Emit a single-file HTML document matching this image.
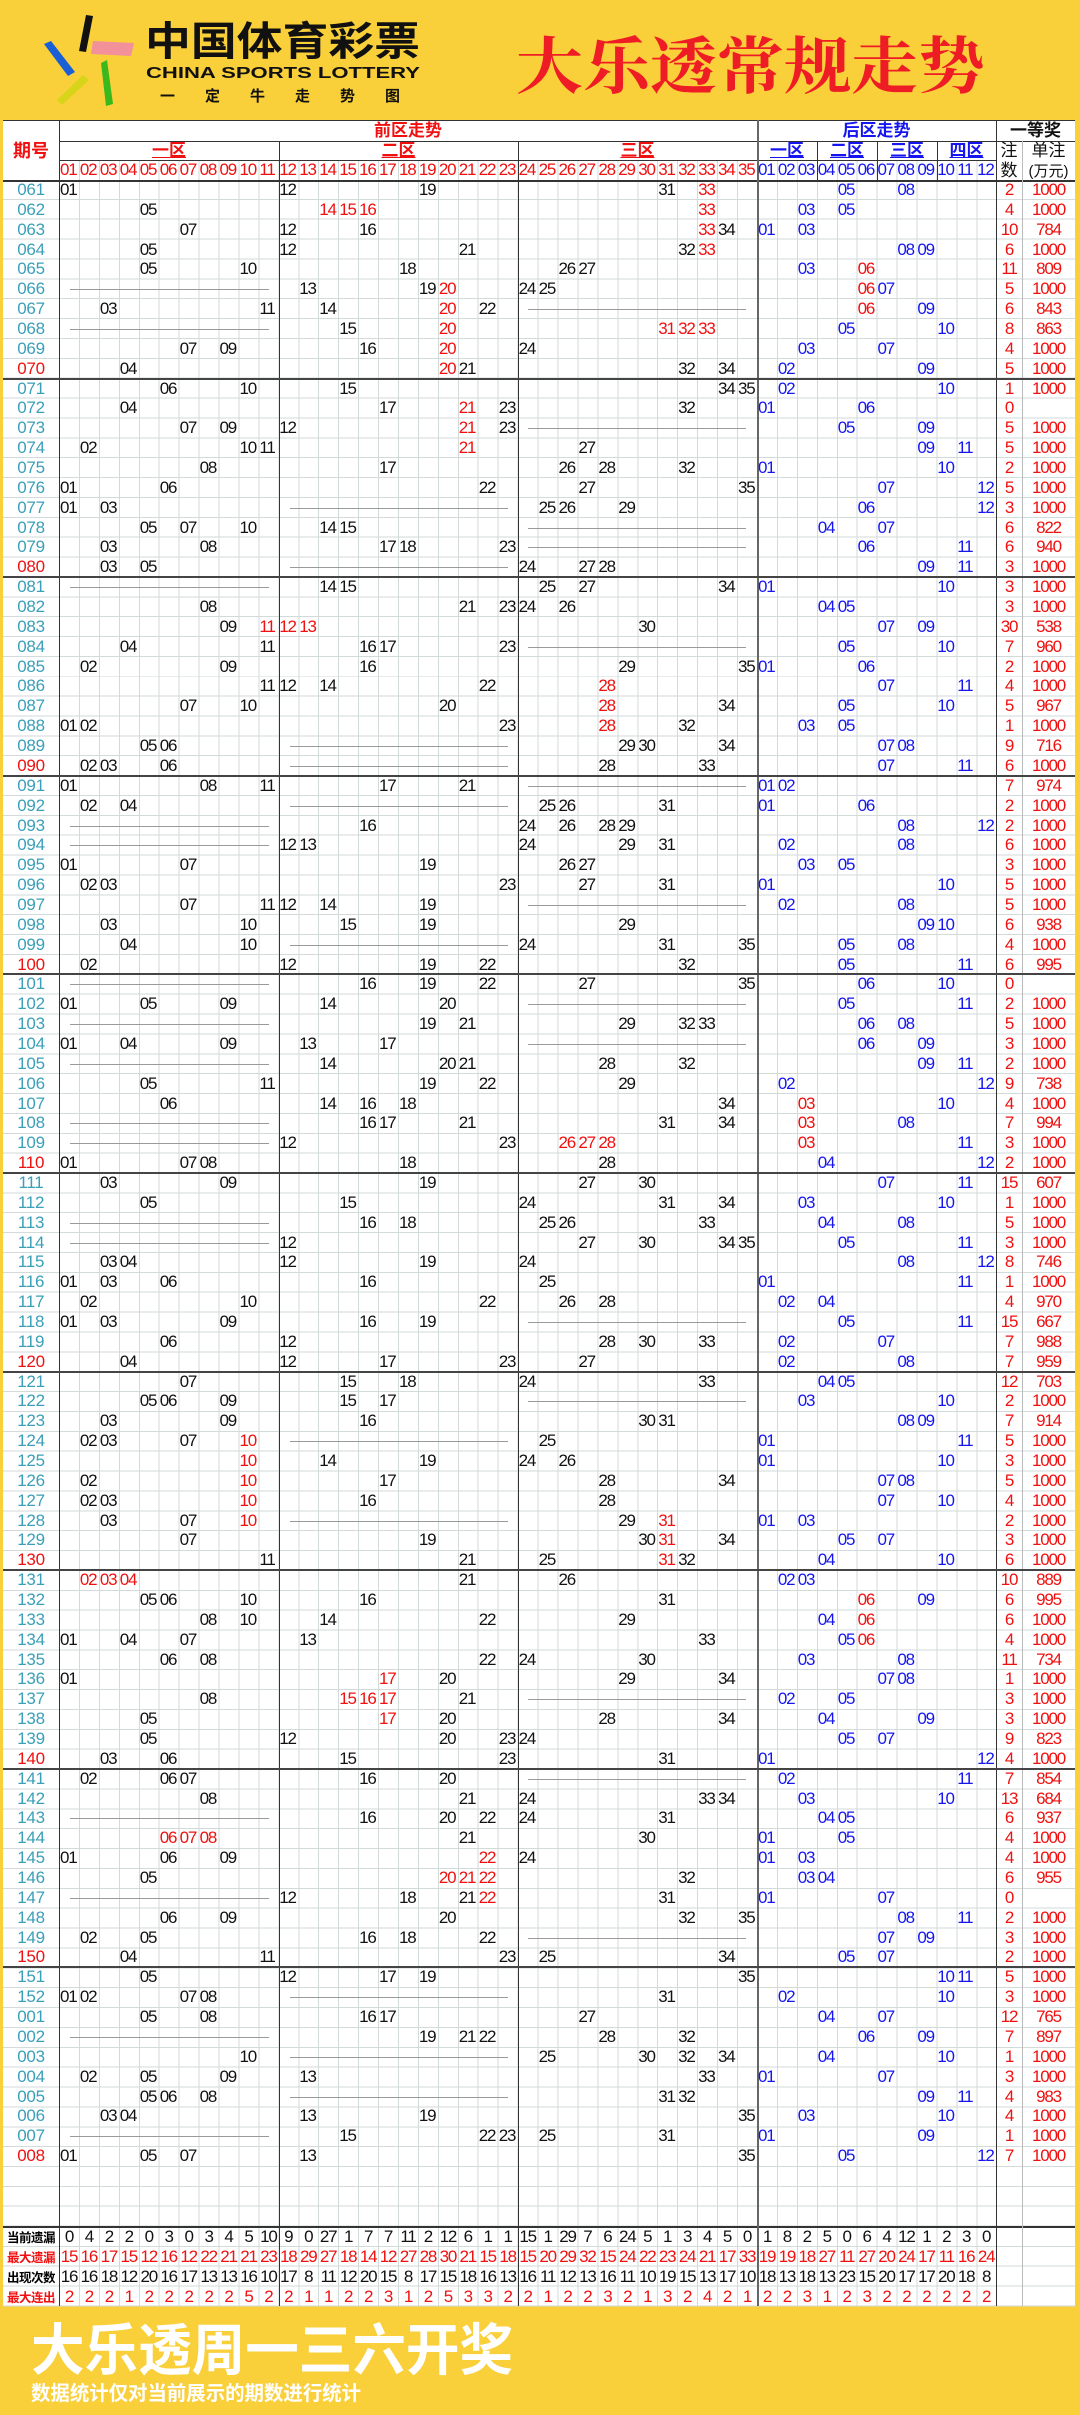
<!DOCTYPE html>
<html><head><meta charset="utf-8">
<style>
*{margin:0;padding:0;box-sizing:border-box}
body{width:1080px;height:2415px;background:#f9cf3a;position:relative;overflow:hidden;font-family:"Liberation Sans","Noto Sans CJK SC",sans-serif}
.tbl{position:absolute;left:3px;top:120px;width:1072px;height:2186px;background:#fff}
.gv{position:absolute;top:160px;height:2146px;background:repeating-linear-gradient(90deg,#d3dada 0 1px,transparent 1px 19.94px)}
.gh{position:absolute;left:3px;top:180px;width:1072px;height:2047px;background:repeating-linear-gradient(180deg,transparent 0 18.87px,#d3dada 18.87px 19.87px)}
.gh2{position:absolute;left:3px;top:2227px;width:1072px;height:80px;background:repeating-linear-gradient(180deg,transparent 0 18.87px,#d3dada 18.87px 19.87px)}
.v{position:absolute;width:1px;background:#333}
.h{position:absolute;height:1px;background:#333}
.hd{position:absolute;font-weight:bold;text-align:center;font-size:17px;line-height:20px}
.ul{text-decoration:underline}
.rows{position:absolute;left:0;top:180px;width:1080px}
.w{position:relative;height:19.87px}
.w i,.w b,.w s,.w u{position:absolute;top:0;line-height:20px;font-style:normal;font-weight:normal;text-decoration:none;font-size:17px;letter-spacing:-1.2px;white-space:nowrap}
.w i{color:#111}
.w b{color:#1515f0}
.w i.r,.w b.r{color:#f01010}
.w s.p{left:3px;width:56px;text-align:center;color:#3a9fb8;letter-spacing:-0.3px}
.w s.p.r{color:#f01010}
.w u.n{left:996px;width:26px;text-align:center;color:#f01010}
.w u.m{left:1022px;width:53px;text-align:center;color:#f01010}
.w s.d1,.w s.d2,.w s.d3{top:10px;height:1px;background:#9a9a9a}
.d1{left:70px;width:199px}.d2{left:290px;width:218px}.d3{left:528px;width:218px}
.g::after{content:"";position:absolute;left:3px;width:1072px;bottom:-1px;height:2px;background:#444}
.f01{left:60px}.f02{left:79.9px}.f03{left:99.9px}.f04{left:119.8px}.f05{left:139.8px}.f06{left:159.7px}.f07{left:179.6px}.f08{left:199.6px}.f09{left:219.5px}.f10{left:239.5px}.f11{left:259.4px}.f12{left:279.3px}.f13{left:299.3px}.f14{left:319.2px}.f15{left:339.2px}.f16{left:359.1px}.f17{left:379px}.f18{left:399px}.f19{left:418.9px}.f20{left:438.9px}.f21{left:458.8px}.f22{left:478.7px}.f23{left:498.7px}.f24{left:518.6px}.f25{left:538.6px}.f26{left:558.5px}.f27{left:578.4px}.f28{left:598.4px}.f29{left:618.3px}.f30{left:638.3px}.f31{left:658.2px}.f32{left:678.1px}.f33{left:698.1px}.f34{left:718px}.f35{left:738px}
.k01{left:758px}.k02{left:777.9px}.k03{left:797.8px}.k04{left:817.8px}.k05{left:837.7px}.k06{left:857.6px}.k07{left:877.5px}.k08{left:897.4px}.k09{left:917.4px}.k10{left:937.3px}.k11{left:957.2px}.k12{left:977.1px}
.hn i{color:#f01010}.hn b{color:#1515f0}
.st i,.st b{margin-left:-1px;width:20px;text-align:center}
.st s.L{left:3px;width:56px;text-align:center;font-weight:bold;font-size:12.5px;letter-spacing:-0.5px;font-family:"Noto Sans CJK SC",sans-serif}
.st.rd i,.st.rd b,.st.rd s.L{color:#f01010}
.st b{color:#111}
</style></head><body>
<svg style="position:absolute;left:0;top:0" width="1080" height="120">
<polygon points="86,15 93,16 86,52 79,51" fill="#111"/>
<polygon points="93,41 134,43 131,56 91,54" fill="#f2919a"/>
<polygon points="44,44 51,41 75,72 68,76" fill="#1a5fd6"/>
<polygon points="101,63 107,60 113,104 106,106" fill="#3ab81c"/>
<polygon points="57,100 83,75 89,80 62,105" fill="#d8d41a"/>
<text x="145" y="55" font-size="40" font-weight="bold" textLength="275" lengthAdjust="spacingAndGlyphs" font-family="Noto Sans CJK SC,sans-serif" fill="#111">中国体育彩票</text>
<text x="146" y="78" font-size="16" font-weight="bold" textLength="274" lengthAdjust="spacingAndGlyphs" font-family="Liberation Sans,sans-serif" fill="#111">CHINA SPORTS LOTTERY</text>
<text x="160" y="101" font-size="15" font-weight="bold" textLength="240" lengthAdjust="spacing" font-family="Noto Sans CJK SC,sans-serif" fill="#111">一定牛走势图</text>
<text x="516" y="88" font-size="62" font-weight="bold" textLength="469" lengthAdjust="spacingAndGlyphs" font-family="Noto Serif CJK SC,serif" fill="#ee1c24">大乐透常规走势</text>
</svg>
<div class="tbl"></div>
<div class="gv" style="left:59px;width:698px"></div>
<div class="gv" style="left:757px;width:239px"></div>
<div class="gh"></div>
<div class="gh2"></div>
<!-- dark lines -->
<div class="h" style="left:3px;top:120px;width:1072px"></div>
<div class="h" style="left:59px;top:141px;width:1016px"></div>
<div class="h" style="left:59px;top:160px;width:937px"></div>
<div class="h" style="left:3px;top:180px;width:1072px;height:2px"></div>
<div class="h" style="left:3px;top:2226px;width:1072px;height:2px"></div>
<div class="v" style="left:59px;top:120px;height:2186px"></div>
<div class="v" style="left:279px;top:141px;height:2165px"></div>
<div class="v" style="left:518px;top:141px;height:2165px"></div>
<div class="v" style="left:757px;top:120px;height:2186px;width:2px;background:#666"></div>
<div class="v" style="left:996px;top:120px;height:2186px"></div>
<div class="v" style="left:1022px;top:141px;height:2165px;background:#bbb"></div>
<div class="v" style="left:817px;top:141px;height:39px"></div>
<div class="v" style="left:877px;top:141px;height:39px"></div>
<div class="v" style="left:937px;top:141px;height:39px"></div>
<!-- header text -->
<div class="hd" style="left:3px;top:140px;width:56px;color:#f01010;font-size:18px;font-family:'Noto Sans CJK SC',sans-serif">期号</div>
<div class="hd" style="left:59px;top:121px;width:698px;color:#f01010">前区走势</div>
<div class="hd" style="left:757px;top:121px;width:239px;color:#1515f0">后区走势</div>
<div class="hd" style="left:996px;top:121px;width:79px;color:#111">一等奖</div>
<div class="hd ul" style="left:59px;top:141px;width:220px;color:#f01010">一区</div>
<div class="hd ul" style="left:279px;top:141px;width:239px;color:#f01010">二区</div>
<div class="hd ul" style="left:518px;top:141px;width:239px;color:#f01010">三区</div>
<div class="hd ul" style="left:757px;top:141px;width:60px;color:#1515f0">一区</div>
<div class="hd ul" style="left:817px;top:141px;width:60px;color:#1515f0">二区</div>
<div class="hd ul" style="left:877px;top:141px;width:60px;color:#1515f0">三区</div>
<div class="hd ul" style="left:937px;top:141px;width:59px;color:#1515f0">四区</div>
<div class="hd" style="left:996px;top:141px;width:26px;color:#111;font-weight:normal">注<br>数</div>
<div class="hd" style="left:1022px;top:141px;width:53px;color:#111;font-weight:normal">单注<br><span style="font-size:15px">(万元)</span></div>
<div class="rows" style="top:160px">
<div class="w hn"><i class=f01>01</i><i class=f02>02</i><i class=f03>03</i><i class=f04>04</i><i class=f05>05</i><i class=f06>06</i><i class=f07>07</i><i class=f08>08</i><i class=f09>09</i><i class=f10>10</i><i class=f11>11</i><i class=f12>12</i><i class=f13>13</i><i class=f14>14</i><i class=f15>15</i><i class=f16>16</i><i class=f17>17</i><i class=f18>18</i><i class=f19>19</i><i class=f20>20</i><i class=f21>21</i><i class=f22>22</i><i class=f23>23</i><i class=f24>24</i><i class=f25>25</i><i class=f26>26</i><i class=f27>27</i><i class=f28>28</i><i class=f29>29</i><i class=f30>30</i><i class=f31>31</i><i class=f32>32</i><i class=f33>33</i><i class=f34>34</i><i class=f35>35</i><b class=k01>01</b><b class=k02>02</b><b class=k03>03</b><b class=k04>04</b><b class=k05>05</b><b class=k06>06</b><b class=k07>07</b><b class=k08>08</b><b class=k09>09</b><b class=k10>10</b><b class=k11>11</b><b class=k12>12</b></div>
</div>
<div class="rows">
<div class=w><s class=p>061</s><i class=f01>01</i><i class=f12>12</i><i class=f19>19</i><i class=f31>31</i><i class="f33 r">33</i><b class=k05>05</b><b class=k08>08</b><u class=n>2</u><u class=m>1000</u></div>
<div class=w><s class=p>062</s><i class=f05>05</i><i class="f14 r">14</i><i class="f15 r">15</i><i class="f16 r">16</i><i class="f33 r">33</i><b class=k03>03</b><b class=k05>05</b><u class=n>4</u><u class=m>1000</u></div>
<div class=w><s class=p>063</s><i class=f07>07</i><i class=f12>12</i><i class=f16>16</i><i class="f33 r">33</i><i class=f34>34</i><b class=k01>01</b><b class=k03>03</b><u class=n>10</u><u class=m>784</u></div>
<div class=w><s class=p>064</s><i class=f05>05</i><i class=f12>12</i><i class=f21>21</i><i class=f32>32</i><i class="f33 r">33</i><b class=k08>08</b><b class=k09>09</b><u class=n>6</u><u class=m>1000</u></div>
<div class=w><s class=p>065</s><i class=f05>05</i><i class=f10>10</i><i class=f18>18</i><i class=f26>26</i><i class=f27>27</i><b class=k03>03</b><b class="k06 r">06</b><u class=n>11</u><u class=m>809</u></div>
<div class=w><s class=p>066</s><s class=d1></s><i class=f13>13</i><i class=f19>19</i><i class="f20 r">20</i><i class=f24>24</i><i class=f25>25</i><b class="k06 r">06</b><b class=k07>07</b><u class=n>5</u><u class=m>1000</u></div>
<div class=w><s class=p>067</s><i class=f03>03</i><i class=f11>11</i><i class=f14>14</i><i class="f20 r">20</i><i class=f22>22</i><s class=d3></s><b class="k06 r">06</b><b class=k09>09</b><u class=n>6</u><u class=m>843</u></div>
<div class=w><s class=p>068</s><s class=d1></s><i class=f15>15</i><i class="f20 r">20</i><i class="f31 r">31</i><i class="f32 r">32</i><i class="f33 r">33</i><b class=k05>05</b><b class=k10>10</b><u class=n>8</u><u class=m>863</u></div>
<div class=w><s class=p>069</s><i class=f07>07</i><i class=f09>09</i><i class=f16>16</i><i class="f20 r">20</i><i class=f24>24</i><b class=k03>03</b><b class=k07>07</b><u class=n>4</u><u class=m>1000</u></div>
<div class="w g"><s class="p r">070</s><i class=f04>04</i><i class="f20 r">20</i><i class=f21>21</i><i class=f32>32</i><i class=f34>34</i><b class=k02>02</b><b class=k09>09</b><u class=n>5</u><u class=m>1000</u></div>
<div class=w><s class=p>071</s><i class=f06>06</i><i class=f10>10</i><i class=f15>15</i><i class=f34>34</i><i class=f35>35</i><b class=k02>02</b><b class=k10>10</b><u class=n>1</u><u class=m>1000</u></div>
<div class=w><s class=p>072</s><i class=f04>04</i><i class=f17>17</i><i class="f21 r">21</i><i class=f23>23</i><i class=f32>32</i><b class=k01>01</b><b class=k06>06</b><u class=n>0</u></div>
<div class=w><s class=p>073</s><i class=f07>07</i><i class=f09>09</i><i class=f12>12</i><i class="f21 r">21</i><i class=f23>23</i><s class=d3></s><b class=k05>05</b><b class=k09>09</b><u class=n>5</u><u class=m>1000</u></div>
<div class=w><s class=p>074</s><i class=f02>02</i><i class=f10>10</i><i class=f11>11</i><i class="f21 r">21</i><i class=f27>27</i><b class=k09>09</b><b class=k11>11</b><u class=n>5</u><u class=m>1000</u></div>
<div class=w><s class=p>075</s><i class=f08>08</i><i class=f17>17</i><i class=f26>26</i><i class=f28>28</i><i class=f32>32</i><b class=k01>01</b><b class=k10>10</b><u class=n>2</u><u class=m>1000</u></div>
<div class=w><s class=p>076</s><i class=f01>01</i><i class=f06>06</i><i class=f22>22</i><i class=f27>27</i><i class=f35>35</i><b class=k07>07</b><b class=k12>12</b><u class=n>5</u><u class=m>1000</u></div>
<div class=w><s class=p>077</s><i class=f01>01</i><i class=f03>03</i><s class=d2></s><i class=f25>25</i><i class=f26>26</i><i class=f29>29</i><b class=k06>06</b><b class=k12>12</b><u class=n>3</u><u class=m>1000</u></div>
<div class=w><s class=p>078</s><i class=f05>05</i><i class=f07>07</i><i class=f10>10</i><i class=f14>14</i><i class=f15>15</i><s class=d3></s><b class=k04>04</b><b class=k07>07</b><u class=n>6</u><u class=m>822</u></div>
<div class=w><s class=p>079</s><i class=f03>03</i><i class=f08>08</i><i class=f17>17</i><i class=f18>18</i><i class=f23>23</i><s class=d3></s><b class=k06>06</b><b class=k11>11</b><u class=n>6</u><u class=m>940</u></div>
<div class="w g"><s class="p r">080</s><i class=f03>03</i><i class=f05>05</i><s class=d2></s><i class=f24>24</i><i class=f27>27</i><i class=f28>28</i><b class=k09>09</b><b class=k11>11</b><u class=n>3</u><u class=m>1000</u></div>
<div class=w><s class=p>081</s><s class=d1></s><i class=f14>14</i><i class=f15>15</i><i class=f25>25</i><i class=f27>27</i><i class=f34>34</i><b class=k01>01</b><b class=k10>10</b><u class=n>3</u><u class=m>1000</u></div>
<div class=w><s class=p>082</s><i class=f08>08</i><i class=f21>21</i><i class=f23>23</i><i class=f24>24</i><i class=f26>26</i><b class=k04>04</b><b class=k05>05</b><u class=n>3</u><u class=m>1000</u></div>
<div class=w><s class=p>083</s><i class=f09>09</i><i class="f11 r">11</i><i class="f12 r">12</i><i class="f13 r">13</i><i class=f30>30</i><b class=k07>07</b><b class=k09>09</b><u class=n>30</u><u class=m>538</u></div>
<div class=w><s class=p>084</s><i class=f04>04</i><i class=f11>11</i><i class=f16>16</i><i class=f17>17</i><i class=f23>23</i><s class=d3></s><b class=k05>05</b><b class=k10>10</b><u class=n>7</u><u class=m>960</u></div>
<div class=w><s class=p>085</s><i class=f02>02</i><i class=f09>09</i><i class=f16>16</i><i class=f29>29</i><i class=f35>35</i><b class=k01>01</b><b class=k06>06</b><u class=n>2</u><u class=m>1000</u></div>
<div class=w><s class=p>086</s><i class=f11>11</i><i class=f12>12</i><i class=f14>14</i><i class=f22>22</i><i class="f28 r">28</i><b class=k07>07</b><b class=k11>11</b><u class=n>4</u><u class=m>1000</u></div>
<div class=w><s class=p>087</s><i class=f07>07</i><i class=f10>10</i><i class=f20>20</i><i class="f28 r">28</i><i class=f34>34</i><b class=k05>05</b><b class=k10>10</b><u class=n>5</u><u class=m>967</u></div>
<div class=w><s class=p>088</s><i class=f01>01</i><i class=f02>02</i><i class=f23>23</i><i class="f28 r">28</i><i class=f32>32</i><b class=k03>03</b><b class=k05>05</b><u class=n>1</u><u class=m>1000</u></div>
<div class=w><s class=p>089</s><i class=f05>05</i><i class=f06>06</i><s class=d2></s><i class=f29>29</i><i class=f30>30</i><i class=f34>34</i><b class=k07>07</b><b class=k08>08</b><u class=n>9</u><u class=m>716</u></div>
<div class="w g"><s class="p r">090</s><i class=f02>02</i><i class=f03>03</i><i class=f06>06</i><s class=d2></s><i class=f28>28</i><i class=f33>33</i><b class=k07>07</b><b class=k11>11</b><u class=n>6</u><u class=m>1000</u></div>
<div class=w><s class=p>091</s><i class=f01>01</i><i class=f08>08</i><i class=f11>11</i><i class=f17>17</i><i class=f21>21</i><s class=d3></s><b class=k01>01</b><b class=k02>02</b><u class=n>7</u><u class=m>974</u></div>
<div class=w><s class=p>092</s><i class=f02>02</i><i class=f04>04</i><s class=d2></s><i class=f25>25</i><i class=f26>26</i><i class=f31>31</i><b class=k01>01</b><b class=k06>06</b><u class=n>2</u><u class=m>1000</u></div>
<div class=w><s class=p>093</s><s class=d1></s><i class=f16>16</i><i class=f24>24</i><i class=f26>26</i><i class=f28>28</i><i class=f29>29</i><b class=k08>08</b><b class=k12>12</b><u class=n>2</u><u class=m>1000</u></div>
<div class=w><s class=p>094</s><s class=d1></s><i class=f12>12</i><i class=f13>13</i><i class=f24>24</i><i class=f29>29</i><i class=f31>31</i><b class=k02>02</b><b class=k08>08</b><u class=n>6</u><u class=m>1000</u></div>
<div class=w><s class=p>095</s><i class=f01>01</i><i class=f07>07</i><i class=f19>19</i><i class=f26>26</i><i class=f27>27</i><b class=k03>03</b><b class=k05>05</b><u class=n>3</u><u class=m>1000</u></div>
<div class=w><s class=p>096</s><i class=f02>02</i><i class=f03>03</i><i class=f23>23</i><i class=f27>27</i><i class=f31>31</i><b class=k01>01</b><b class=k10>10</b><u class=n>5</u><u class=m>1000</u></div>
<div class=w><s class=p>097</s><i class=f07>07</i><i class=f11>11</i><i class=f12>12</i><i class=f14>14</i><i class=f19>19</i><s class=d3></s><b class=k02>02</b><b class=k08>08</b><u class=n>5</u><u class=m>1000</u></div>
<div class=w><s class=p>098</s><i class=f03>03</i><i class=f10>10</i><i class=f15>15</i><i class=f19>19</i><i class=f29>29</i><b class=k09>09</b><b class=k10>10</b><u class=n>6</u><u class=m>938</u></div>
<div class=w><s class=p>099</s><i class=f04>04</i><i class=f10>10</i><s class=d2></s><i class=f24>24</i><i class=f31>31</i><i class=f35>35</i><b class=k05>05</b><b class=k08>08</b><u class=n>4</u><u class=m>1000</u></div>
<div class="w g"><s class="p r">100</s><i class=f02>02</i><i class=f12>12</i><i class=f19>19</i><i class=f22>22</i><i class=f32>32</i><b class=k05>05</b><b class=k11>11</b><u class=n>6</u><u class=m>995</u></div>
<div class=w><s class=p>101</s><s class=d1></s><i class=f16>16</i><i class=f19>19</i><i class=f22>22</i><i class=f27>27</i><i class=f35>35</i><b class=k06>06</b><b class=k10>10</b><u class=n>0</u></div>
<div class=w><s class=p>102</s><i class=f01>01</i><i class=f05>05</i><i class=f09>09</i><i class=f14>14</i><i class=f20>20</i><s class=d3></s><b class=k05>05</b><b class=k11>11</b><u class=n>2</u><u class=m>1000</u></div>
<div class=w><s class=p>103</s><s class=d1></s><i class=f19>19</i><i class=f21>21</i><i class=f29>29</i><i class=f32>32</i><i class=f33>33</i><b class=k06>06</b><b class=k08>08</b><u class=n>5</u><u class=m>1000</u></div>
<div class=w><s class=p>104</s><i class=f01>01</i><i class=f04>04</i><i class=f09>09</i><i class=f13>13</i><i class=f17>17</i><s class=d3></s><b class=k06>06</b><b class=k09>09</b><u class=n>3</u><u class=m>1000</u></div>
<div class=w><s class=p>105</s><s class=d1></s><i class=f14>14</i><i class=f20>20</i><i class=f21>21</i><i class=f28>28</i><i class=f32>32</i><b class=k09>09</b><b class=k11>11</b><u class=n>2</u><u class=m>1000</u></div>
<div class=w><s class=p>106</s><i class=f05>05</i><i class=f11>11</i><i class=f19>19</i><i class=f22>22</i><i class=f29>29</i><b class=k02>02</b><b class=k12>12</b><u class=n>9</u><u class=m>738</u></div>
<div class=w><s class=p>107</s><i class=f06>06</i><i class=f14>14</i><i class=f16>16</i><i class=f18>18</i><i class=f34>34</i><b class="k03 r">03</b><b class=k10>10</b><u class=n>4</u><u class=m>1000</u></div>
<div class=w><s class=p>108</s><s class=d1></s><i class=f16>16</i><i class=f17>17</i><i class=f21>21</i><i class=f31>31</i><i class=f34>34</i><b class="k03 r">03</b><b class=k08>08</b><u class=n>7</u><u class=m>994</u></div>
<div class=w><s class=p>109</s><s class=d1></s><i class=f12>12</i><i class=f23>23</i><i class="f26 r">26</i><i class="f27 r">27</i><i class="f28 r">28</i><b class="k03 r">03</b><b class=k11>11</b><u class=n>3</u><u class=m>1000</u></div>
<div class="w g"><s class="p r">110</s><i class=f01>01</i><i class=f07>07</i><i class=f08>08</i><i class=f18>18</i><i class=f28>28</i><b class=k04>04</b><b class=k12>12</b><u class=n>2</u><u class=m>1000</u></div>
<div class=w><s class=p>111</s><i class=f03>03</i><i class=f09>09</i><i class=f19>19</i><i class=f27>27</i><i class=f30>30</i><b class=k07>07</b><b class=k11>11</b><u class=n>15</u><u class=m>607</u></div>
<div class=w><s class=p>112</s><i class=f05>05</i><i class=f15>15</i><i class=f24>24</i><i class=f31>31</i><i class=f34>34</i><b class=k03>03</b><b class=k10>10</b><u class=n>1</u><u class=m>1000</u></div>
<div class=w><s class=p>113</s><s class=d1></s><i class=f16>16</i><i class=f18>18</i><i class=f25>25</i><i class=f26>26</i><i class=f33>33</i><b class=k04>04</b><b class=k08>08</b><u class=n>5</u><u class=m>1000</u></div>
<div class=w><s class=p>114</s><s class=d1></s><i class=f12>12</i><i class=f27>27</i><i class=f30>30</i><i class=f34>34</i><i class=f35>35</i><b class=k05>05</b><b class=k11>11</b><u class=n>3</u><u class=m>1000</u></div>
<div class=w><s class=p>115</s><i class=f03>03</i><i class=f04>04</i><i class=f12>12</i><i class=f19>19</i><i class=f24>24</i><b class=k08>08</b><b class=k12>12</b><u class=n>8</u><u class=m>746</u></div>
<div class=w><s class=p>116</s><i class=f01>01</i><i class=f03>03</i><i class=f06>06</i><i class=f16>16</i><i class=f25>25</i><b class=k01>01</b><b class=k11>11</b><u class=n>1</u><u class=m>1000</u></div>
<div class=w><s class=p>117</s><i class=f02>02</i><i class=f10>10</i><i class=f22>22</i><i class=f26>26</i><i class=f28>28</i><b class=k02>02</b><b class=k04>04</b><u class=n>4</u><u class=m>970</u></div>
<div class=w><s class=p>118</s><i class=f01>01</i><i class=f03>03</i><i class=f09>09</i><i class=f16>16</i><i class=f19>19</i><s class=d3></s><b class=k05>05</b><b class=k11>11</b><u class=n>15</u><u class=m>667</u></div>
<div class=w><s class=p>119</s><i class=f06>06</i><i class=f12>12</i><i class=f28>28</i><i class=f30>30</i><i class=f33>33</i><b class=k02>02</b><b class=k07>07</b><u class=n>7</u><u class=m>988</u></div>
<div class="w g"><s class="p r">120</s><i class=f04>04</i><i class=f12>12</i><i class=f17>17</i><i class=f23>23</i><i class=f27>27</i><b class=k02>02</b><b class=k08>08</b><u class=n>7</u><u class=m>959</u></div>
<div class=w><s class=p>121</s><i class=f07>07</i><i class=f15>15</i><i class=f18>18</i><i class=f24>24</i><i class=f33>33</i><b class=k04>04</b><b class=k05>05</b><u class=n>12</u><u class=m>703</u></div>
<div class=w><s class=p>122</s><i class=f05>05</i><i class=f06>06</i><i class=f09>09</i><i class=f15>15</i><i class=f17>17</i><s class=d3></s><b class=k03>03</b><b class=k10>10</b><u class=n>2</u><u class=m>1000</u></div>
<div class=w><s class=p>123</s><i class=f03>03</i><i class=f09>09</i><i class=f16>16</i><i class=f30>30</i><i class=f31>31</i><b class=k08>08</b><b class=k09>09</b><u class=n>7</u><u class=m>914</u></div>
<div class=w><s class=p>124</s><i class=f02>02</i><i class=f03>03</i><i class=f07>07</i><i class="f10 r">10</i><s class=d2></s><i class=f25>25</i><b class=k01>01</b><b class=k11>11</b><u class=n>5</u><u class=m>1000</u></div>
<div class=w><s class=p>125</s><i class="f10 r">10</i><i class=f14>14</i><i class=f19>19</i><i class=f24>24</i><i class=f26>26</i><b class=k01>01</b><b class=k10>10</b><u class=n>3</u><u class=m>1000</u></div>
<div class=w><s class=p>126</s><i class=f02>02</i><i class="f10 r">10</i><i class=f17>17</i><i class=f28>28</i><i class=f34>34</i><b class=k07>07</b><b class=k08>08</b><u class=n>5</u><u class=m>1000</u></div>
<div class=w><s class=p>127</s><i class=f02>02</i><i class=f03>03</i><i class="f10 r">10</i><i class=f16>16</i><i class=f28>28</i><b class=k07>07</b><b class=k10>10</b><u class=n>4</u><u class=m>1000</u></div>
<div class=w><s class=p>128</s><i class=f03>03</i><i class=f07>07</i><i class="f10 r">10</i><s class=d2></s><i class=f29>29</i><i class="f31 r">31</i><b class=k01>01</b><b class=k03>03</b><u class=n>2</u><u class=m>1000</u></div>
<div class=w><s class=p>129</s><i class=f07>07</i><i class=f19>19</i><i class=f30>30</i><i class="f31 r">31</i><i class=f34>34</i><b class=k05>05</b><b class=k07>07</b><u class=n>3</u><u class=m>1000</u></div>
<div class="w g"><s class="p r">130</s><i class=f11>11</i><i class=f21>21</i><i class=f25>25</i><i class="f31 r">31</i><i class=f32>32</i><b class=k04>04</b><b class=k10>10</b><u class=n>6</u><u class=m>1000</u></div>
<div class=w><s class=p>131</s><i class="f02 r">02</i><i class="f03 r">03</i><i class="f04 r">04</i><i class=f21>21</i><i class=f26>26</i><b class=k02>02</b><b class=k03>03</b><u class=n>10</u><u class=m>889</u></div>
<div class=w><s class=p>132</s><i class=f05>05</i><i class=f06>06</i><i class=f10>10</i><i class=f16>16</i><i class=f31>31</i><b class="k06 r">06</b><b class=k09>09</b><u class=n>6</u><u class=m>995</u></div>
<div class=w><s class=p>133</s><i class=f08>08</i><i class=f10>10</i><i class=f14>14</i><i class=f22>22</i><i class=f29>29</i><b class=k04>04</b><b class="k06 r">06</b><u class=n>6</u><u class=m>1000</u></div>
<div class=w><s class=p>134</s><i class=f01>01</i><i class=f04>04</i><i class=f07>07</i><i class=f13>13</i><i class=f33>33</i><b class=k05>05</b><b class="k06 r">06</b><u class=n>4</u><u class=m>1000</u></div>
<div class=w><s class=p>135</s><i class=f06>06</i><i class=f08>08</i><i class=f22>22</i><i class=f24>24</i><i class=f30>30</i><b class=k03>03</b><b class=k08>08</b><u class=n>11</u><u class=m>734</u></div>
<div class=w><s class=p>136</s><i class=f01>01</i><i class="f17 r">17</i><i class=f20>20</i><i class=f29>29</i><i class=f34>34</i><b class=k07>07</b><b class=k08>08</b><u class=n>1</u><u class=m>1000</u></div>
<div class=w><s class=p>137</s><i class=f08>08</i><i class="f15 r">15</i><i class="f16 r">16</i><i class="f17 r">17</i><i class=f21>21</i><s class=d3></s><b class=k02>02</b><b class=k05>05</b><u class=n>3</u><u class=m>1000</u></div>
<div class=w><s class=p>138</s><i class=f05>05</i><i class="f17 r">17</i><i class=f20>20</i><i class=f28>28</i><i class=f34>34</i><b class=k04>04</b><b class=k09>09</b><u class=n>3</u><u class=m>1000</u></div>
<div class=w><s class=p>139</s><i class=f05>05</i><i class=f12>12</i><i class=f20>20</i><i class=f23>23</i><i class=f24>24</i><b class=k05>05</b><b class=k07>07</b><u class=n>9</u><u class=m>823</u></div>
<div class="w g"><s class="p r">140</s><i class=f03>03</i><i class=f06>06</i><i class=f15>15</i><i class=f23>23</i><i class=f31>31</i><b class=k01>01</b><b class=k12>12</b><u class=n>4</u><u class=m>1000</u></div>
<div class=w><s class=p>141</s><i class=f02>02</i><i class=f06>06</i><i class=f07>07</i><i class=f16>16</i><i class=f20>20</i><s class=d3></s><b class=k02>02</b><b class=k11>11</b><u class=n>7</u><u class=m>854</u></div>
<div class=w><s class=p>142</s><i class=f08>08</i><i class=f21>21</i><i class=f24>24</i><i class=f33>33</i><i class=f34>34</i><b class=k03>03</b><b class=k10>10</b><u class=n>13</u><u class=m>684</u></div>
<div class=w><s class=p>143</s><s class=d1></s><i class=f16>16</i><i class=f20>20</i><i class=f22>22</i><i class=f24>24</i><i class=f31>31</i><b class=k04>04</b><b class=k05>05</b><u class=n>6</u><u class=m>937</u></div>
<div class=w><s class=p>144</s><i class="f06 r">06</i><i class="f07 r">07</i><i class="f08 r">08</i><i class=f21>21</i><i class=f30>30</i><b class=k01>01</b><b class=k05>05</b><u class=n>4</u><u class=m>1000</u></div>
<div class=w><s class=p>145</s><i class=f01>01</i><i class=f06>06</i><i class=f09>09</i><i class="f22 r">22</i><i class=f24>24</i><b class=k01>01</b><b class=k03>03</b><u class=n>4</u><u class=m>1000</u></div>
<div class=w><s class=p>146</s><i class=f05>05</i><i class="f20 r">20</i><i class="f21 r">21</i><i class="f22 r">22</i><i class=f32>32</i><b class=k03>03</b><b class=k04>04</b><u class=n>6</u><u class=m>955</u></div>
<div class=w><s class=p>147</s><s class=d1></s><i class=f12>12</i><i class=f18>18</i><i class=f21>21</i><i class="f22 r">22</i><i class=f31>31</i><b class=k01>01</b><b class=k07>07</b><u class=n>0</u></div>
<div class=w><s class=p>148</s><i class=f06>06</i><i class=f09>09</i><i class=f20>20</i><i class=f32>32</i><i class=f35>35</i><b class=k08>08</b><b class=k11>11</b><u class=n>2</u><u class=m>1000</u></div>
<div class=w><s class=p>149</s><i class=f02>02</i><i class=f05>05</i><i class=f16>16</i><i class=f18>18</i><i class=f22>22</i><s class=d3></s><b class=k07>07</b><b class=k09>09</b><u class=n>3</u><u class=m>1000</u></div>
<div class="w g"><s class="p r">150</s><i class=f04>04</i><i class=f11>11</i><i class=f23>23</i><i class=f25>25</i><i class=f34>34</i><b class=k05>05</b><b class=k07>07</b><u class=n>2</u><u class=m>1000</u></div>
<div class=w><s class=p>151</s><i class=f05>05</i><i class=f12>12</i><i class=f17>17</i><i class=f19>19</i><i class=f35>35</i><b class=k10>10</b><b class=k11>11</b><u class=n>5</u><u class=m>1000</u></div>
<div class=w><s class=p>152</s><i class=f01>01</i><i class=f02>02</i><i class=f07>07</i><i class=f08>08</i><s class=d2></s><i class=f31>31</i><b class=k02>02</b><b class=k10>10</b><u class=n>3</u><u class=m>1000</u></div>
<div class=w><s class=p>001</s><i class=f05>05</i><i class=f08>08</i><i class=f16>16</i><i class=f17>17</i><i class=f27>27</i><b class=k04>04</b><b class=k07>07</b><u class=n>12</u><u class=m>765</u></div>
<div class=w><s class=p>002</s><s class=d1></s><i class=f19>19</i><i class=f21>21</i><i class=f22>22</i><i class=f28>28</i><i class=f32>32</i><b class=k06>06</b><b class=k09>09</b><u class=n>7</u><u class=m>897</u></div>
<div class=w><s class=p>003</s><i class=f10>10</i><s class=d2></s><i class=f25>25</i><i class=f30>30</i><i class=f32>32</i><i class=f34>34</i><b class=k04>04</b><b class=k10>10</b><u class=n>1</u><u class=m>1000</u></div>
<div class=w><s class=p>004</s><i class=f02>02</i><i class=f05>05</i><i class=f09>09</i><i class=f13>13</i><i class=f33>33</i><b class=k01>01</b><b class=k07>07</b><u class=n>3</u><u class=m>1000</u></div>
<div class=w><s class=p>005</s><i class=f05>05</i><i class=f06>06</i><i class=f08>08</i><s class=d2></s><i class=f31>31</i><i class=f32>32</i><b class=k09>09</b><b class=k11>11</b><u class=n>4</u><u class=m>983</u></div>
<div class=w><s class=p>006</s><i class=f03>03</i><i class=f04>04</i><i class=f13>13</i><i class=f19>19</i><i class=f35>35</i><b class=k03>03</b><b class=k10>10</b><u class=n>4</u><u class=m>1000</u></div>
<div class=w><s class=p>007</s><s class=d1></s><i class=f15>15</i><i class=f22>22</i><i class=f23>23</i><i class=f25>25</i><i class=f31>31</i><b class=k01>01</b><b class=k09>09</b><u class=n>1</u><u class=m>1000</u></div>
<div class=w><s class="p r">008</s><i class=f01>01</i><i class=f05>05</i><i class=f07>07</i><i class=f13>13</i><i class=f35>35</i><b class=k05>05</b><b class=k12>12</b><u class=n>7</u><u class=m>1000</u></div>
</div>
<div class="rows" style="top:2227px">
<div class="w st"><s class=L>当前遗漏</s><i class=f01>0</i><i class=f02>4</i><i class=f03>2</i><i class=f04>2</i><i class=f05>0</i><i class=f06>3</i><i class=f07>0</i><i class=f08>3</i><i class=f09>4</i><i class=f10>5</i><i class=f11>10</i><i class=f12>9</i><i class=f13>0</i><i class=f14>27</i><i class=f15>1</i><i class=f16>7</i><i class=f17>7</i><i class=f18>11</i><i class=f19>2</i><i class=f20>12</i><i class=f21>6</i><i class=f22>1</i><i class=f23>1</i><i class=f24>15</i><i class=f25>1</i><i class=f26>29</i><i class=f27>7</i><i class=f28>6</i><i class=f29>24</i><i class=f30>5</i><i class=f31>1</i><i class=f32>3</i><i class=f33>4</i><i class=f34>5</i><i class=f35>0</i><b class=k01>1</b><b class=k02>8</b><b class=k03>2</b><b class=k04>5</b><b class=k05>0</b><b class=k06>6</b><b class=k07>4</b><b class=k08>12</b><b class=k09>1</b><b class=k10>2</b><b class=k11>3</b><b class=k12>0</b></div>
<div class="w st rd"><s class=L>最大遗漏</s><i class=f01>15</i><i class=f02>16</i><i class=f03>17</i><i class=f04>15</i><i class=f05>12</i><i class=f06>16</i><i class=f07>12</i><i class=f08>22</i><i class=f09>21</i><i class=f10>21</i><i class=f11>23</i><i class=f12>18</i><i class=f13>29</i><i class=f14>27</i><i class=f15>18</i><i class=f16>14</i><i class=f17>12</i><i class=f18>27</i><i class=f19>28</i><i class=f20>30</i><i class=f21>21</i><i class=f22>15</i><i class=f23>18</i><i class=f24>15</i><i class=f25>20</i><i class=f26>29</i><i class=f27>32</i><i class=f28>15</i><i class=f29>24</i><i class=f30>22</i><i class=f31>23</i><i class=f32>24</i><i class=f33>21</i><i class=f34>17</i><i class=f35>33</i><b class=k01>19</b><b class=k02>19</b><b class=k03>18</b><b class=k04>27</b><b class=k05>11</b><b class=k06>27</b><b class=k07>20</b><b class=k08>24</b><b class=k09>17</b><b class=k10>11</b><b class=k11>16</b><b class=k12>24</b></div>
<div class="w st"><s class=L>出现次数</s><i class=f01>16</i><i class=f02>16</i><i class=f03>18</i><i class=f04>12</i><i class=f05>20</i><i class=f06>16</i><i class=f07>17</i><i class=f08>13</i><i class=f09>13</i><i class=f10>16</i><i class=f11>10</i><i class=f12>17</i><i class=f13>8</i><i class=f14>11</i><i class=f15>12</i><i class=f16>20</i><i class=f17>15</i><i class=f18>8</i><i class=f19>17</i><i class=f20>15</i><i class=f21>18</i><i class=f22>16</i><i class=f23>13</i><i class=f24>16</i><i class=f25>11</i><i class=f26>12</i><i class=f27>13</i><i class=f28>16</i><i class=f29>11</i><i class=f30>10</i><i class=f31>19</i><i class=f32>15</i><i class=f33>13</i><i class=f34>17</i><i class=f35>10</i><b class=k01>18</b><b class=k02>13</b><b class=k03>18</b><b class=k04>13</b><b class=k05>23</b><b class=k06>15</b><b class=k07>20</b><b class=k08>17</b><b class=k09>17</b><b class=k10>20</b><b class=k11>18</b><b class=k12>8</b></div>
<div class="w st rd"><s class=L>最大连出</s><i class=f01>2</i><i class=f02>2</i><i class=f03>2</i><i class=f04>1</i><i class=f05>2</i><i class=f06>2</i><i class=f07>2</i><i class=f08>2</i><i class=f09>2</i><i class=f10>5</i><i class=f11>2</i><i class=f12>2</i><i class=f13>1</i><i class=f14>1</i><i class=f15>2</i><i class=f16>2</i><i class=f17>3</i><i class=f18>1</i><i class=f19>2</i><i class=f20>5</i><i class=f21>3</i><i class=f22>3</i><i class=f23>2</i><i class=f24>2</i><i class=f25>1</i><i class=f26>2</i><i class=f27>2</i><i class=f28>3</i><i class=f29>2</i><i class=f30>1</i><i class=f31>3</i><i class=f32>2</i><i class=f33>4</i><i class=f34>2</i><i class=f35>1</i><b class=k01>2</b><b class=k02>2</b><b class=k03>3</b><b class=k04>1</b><b class=k05>2</b><b class=k06>3</b><b class=k07>2</b><b class=k08>2</b><b class=k09>2</b><b class=k10>2</b><b class=k11>2</b><b class=k12>2</b></div>
</div>
<svg style="position:absolute;left:0;top:2306px" width="1080" height="109">
<text x="31" y="64" font-size="56" font-weight="bold" textLength="482" lengthAdjust="spacingAndGlyphs" font-family="Noto Sans CJK SC,sans-serif" fill="#fff">大乐透周一三六开奖</text>
<text x="31" y="94" font-size="20" font-weight="bold" textLength="330" lengthAdjust="spacingAndGlyphs" font-family="Noto Sans CJK SC,sans-serif" fill="#fff">数据统计仅对当前展示的期数进行统计</text>
</svg>
</body></html>
